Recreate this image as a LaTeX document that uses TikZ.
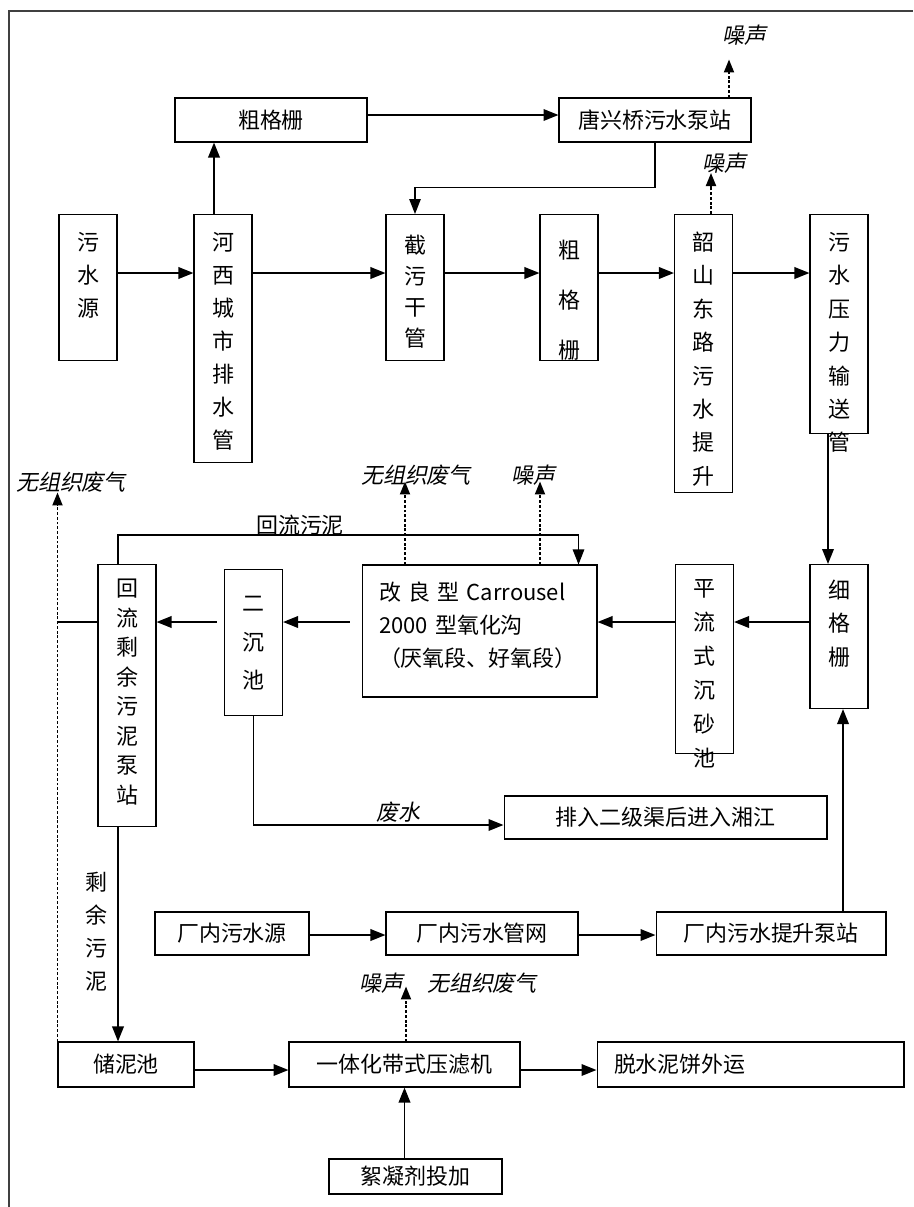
\documentclass[tikz,border=0pt]{standalone}
\usepackage{fontspec}
\setmainfont{Noto Sans CJK SC}
\newfontfamily\slfont[FakeSlant=0.2]{Noto Sans CJK SC}
\usetikzlibrary{arrows.meta}

\begin{document}
\begin{tikzpicture}[
    x=0.02cm, y=-0.02cm,
    font=\fontsize{12.5}{18.8}\selectfont,
    sp/.style={font=\fontsize{12.5}{#1}\selectfont},
    box/.style={draw, line width=0.6pt, inner sep=0pt, minimum height=0.88cm},
    vbox/.style 2 args={draw, line width=0.6pt, anchor=north, inner sep=0pt, text width=1.16cm, align=center, text height=#1, text depth=#2},
    lab/.style={inner sep=0pt, font=\fontsize{12.5}{15}\selectfont\slfont},
    arr/.style={line width=1.1pt, -{Triangle[length=0.3cm, width=0.23cm]}},
    thinarr/.style={line width=0.7pt, -{Triangle[length=0.3cm, width=0.23cm]}},
    emit/.style={line width=1.1pt, dash pattern=on 1.6pt off 1.1pt, -{Triangle[length=0.26cm, width=0.2cm]}},
]
\useasboundingbox (0,0) rectangle (913,1207);

% Frame
\draw[line width=0.8pt, black!75] (9,1207) -- (9,11) -- (913,11);

% Rows of arrows
\coordinate (r0) at (0,115);
\coordinate (r1) at (0,273);
\coordinate (r2) at (0,622);
\coordinate (r3) at (0,935);
\coordinate (r4) at (0,1070);

% Top row
\node[box, minimum width=3.84cm] (cgs1) at (271,120) {粗格栅};
\node[box, minimum width=3.84cm] (txq) at (655,120) {唐兴桥污水泵站};

% Upper vertical boxes
\node[vbox={0.72cm}{2.2cm}] (src) at (88,214) {污\\水\\源};
\node[vbox={0.72cm}{4.24cm}] (hx) at (223,214) {河\\西\\城\\市\\排\\水\\管};
\node[vbox={0.78cm}{2.14cm}, sp=17.6] (jw) at (415,214) {截\\污\\干\\管};
\node[vbox={0.88cm}{2.04cm}, sp=28.4] (cgs2) at (569,214) {粗\\格\\栅};
\node[vbox={0.72cm}{4.84cm}, sp=19] (ssl) at (703.5,214) {韶\\山\\东\\路\\污\\水\\提\\升};
\node[vbox={0.72cm}{3.66cm}, sp=19] (wy) at (839,214) {污\\水\\压\\力\\输\\送\\管};

% Middle row
\node[vbox={0.64cm}{4.6cm}, sp=16.8] (rp) at (127,564) {回\\流\\剩\\余\\污\\泥\\泵\\站};
\node[vbox={0.84cm}{2.08cm}, sp=21.9] (ec) at (253.5,569) {二\\沉\\池};
\node[draw, line width=0.6pt, inner xsep=0.34cm, inner ysep=0pt, text width=4.02cm, align=left,
      text height=0.7cm, text depth=1.94cm] (ox) at (479.5,631)
      {\makebox[\linewidth][s]{改 良 型 Carrousel}\\2000 型氧化沟\\（厌氧段、好氧段）};
\node[vbox={0.64cm}{3.14cm}, sp=19.4] (pl) at (704.5,564) {平\\流\\式\\沉\\砂\\池};
\node[vbox={0.68cm}{2.2cm}, sp=19] (xg) at (839,564) {细\\格\\栅};

\node[box, minimum width=6.46cm, minimum height=0.86cm] (pr) at (665.5,817.5) {排入二级渠后进入湘江};

% In-plant sewage
\node[box, minimum width=3.08cm, minimum height=0.86cm] (cs) at (232,933.5) {厂内污水源};
\node[box, minimum width=3.84cm, minimum height=0.86cm] (cg) at (482,933.5) {厂内污水管网};
\node[box, minimum width=4.6cm, minimum height=0.86cm] (tsb) at (771,933.5) {厂内污水提升泵站};

% Sludge line
\node[vbox={0.4cm}{2cm}, draw=none] (syl) at (96,870) {剩\\余\\污\\泥};
\node[box, minimum width=2.72cm, minimum height=0.9cm] (sto) at (126,1064.5) {储泥池};
\node[box, minimum width=4.62cm, minimum height=0.9cm] (press) at (404.5,1064.5) {一体化带式压滤机};
\node[box, minimum width=6.14cm, minimum height=0.9cm, inner xsep=0.34cm, text width=5.46cm, align=left] (cake) at (750.5,1064.5) {脱水泥饼外运};
\node[box, minimum width=3.46cm, minimum height=0.7cm] (floc) at (415.5,1176.5) {絮凝剂投加};

% Emission labels
\node[lab] (zs1) at (744,35) {噪声};
\node[lab] (zs2) at (724,163) {噪声};
\node[lab] (fq1) at (71,482) {无组织废气};
\node[lab] (fq2) at (416,475) {无组织废气};
\node[lab] (zs3) at (533,475) {噪声};
\node[lab] (zs4) at (381,983) {噪声};
\node[lab] (fq3) at (482,983) {无组织废气};
\node[inner sep=0pt] (hlwn) at (300,525) {回流污泥};

% Arrows
\draw[arr] (cgs1.east |- r0) -- (txq.west |- r0);
\draw[arr] ([xshift=-0.18cm]hx.north) -- ([xshift=-0.18cm]hx.north |- cgs1.south);
\draw[thinarr] (txq.south) -- ++(0,45) -| (jw.north);

\draw[arr] (src.east |- r1) -- (hx.west |- r1);
\draw[arr] (hx.east |- r1) -- (jw.west |- r1);
\draw[arr] (jw.east |- r1) -- (cgs2.west |- r1);
\draw[arr] (cgs2.east |- r1) -- (ssl.west |- r1);
\draw[arr] (ssl.east |- r1) -- (wy.west |- r1);
\draw[arr] ([xshift=-0.22cm]wy.south) -- ([xshift=-0.22cm]wy.south |- xg.north);

\draw[arr] (xg.west |- r2) -- (pl.east |- r2);
\draw[arr] (pl.west |- r2) -- (ox.east |- r2);
\draw[arr] ([xshift=-0.24cm]ox.west |- r2) -- (ec.east |- r2);
\draw[arr] ([xshift=-0.14cm]ec.west |- r2) -- (rp.east |- r2);
\draw[line width=1.1pt] (rp.west |- r2) -- (sto.north west |- r2);
\draw[thinarr] ([xshift=-0.18cm]rp.north) -- ++(0,-29) -| ([xshift=-0.38cm]ox.north east);
\draw[arr] (ec.south) |- node[lab, above, inner sep=1pt, pos=0.79] (fs) {废水} ([yshift=-0.15cm]pr.west);

\draw[arr] (cs.east |- r3) -- (cg.west |- r3);
\draw[arr] (cg.east |- r3) -- (tsb.west |- r3);
\draw[arr] ([xshift=0.08cm]xg.south |- tsb.north) -- ([xshift=0.08cm]xg.south);

\draw[arr] ([xshift=-0.18cm]rp.south) -- ([xshift=-0.18cm]rp.south |- sto.north);
\draw[arr] (sto.east |- r4) -- (press.west |- r4);
\draw[arr] (press.east |- r4) -- (cake.west |- r4);
\draw[arr] (press.south |- floc.north) -- (press.south);

% Noise and off-gas
\draw[emit] (txq.north) ++(74,0) -- ++(0,-38);
\draw[emit] (ssl.north) ++(7.5,0) -- ++(0,-41);
\draw[emit] (ox.north) ++(-74.5,0) -- ++(0,-83);
\draw[emit] (ox.north) ++(60.5,0) -- ++(0,-83);
\draw[emit] (press.north) ++(1.5,0) -- ++(0,-55);
\draw[emit] (sto.north west) -- ++(0,-549);

\end{tikzpicture}
\end{document}
